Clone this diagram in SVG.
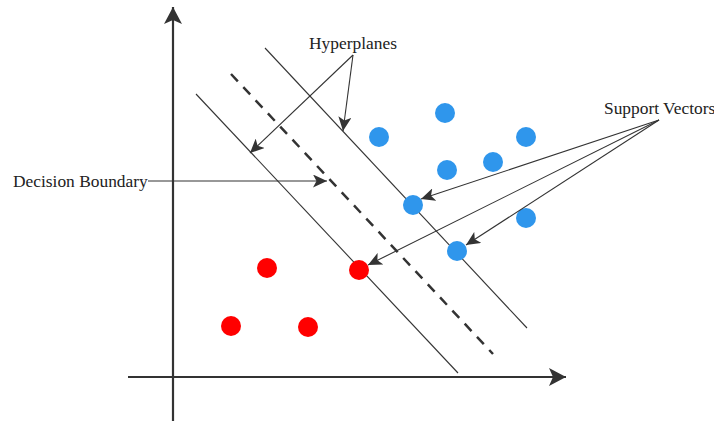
<svg xmlns="http://www.w3.org/2000/svg" width="714" height="423" viewBox="0 0 714 423">
<style>
.ax{stroke:#333;stroke-width:2.2;fill:none}
.hp{stroke:#333;stroke-width:1.1;fill:none}
.db{stroke:#333;stroke-width:2.5;fill:none;stroke-dasharray:10 8}
.ar{stroke:#333;stroke-width:1.1;fill:none}
.lbl{font-family:"Liberation Serif","Times New Roman",serif;font-size:17.4px;fill:#222}
.blue{fill:#2f96ec}
.red{fill:#ff0000}
</style>
<defs>
<marker id="ah" markerUnits="userSpaceOnUse" markerWidth="15" markerHeight="13" refX="14" refY="6.5" orient="auto">
<path d="M0,0 L14,6.5 L0,13 L3.5,6.5 Z" fill="#333"/>
</marker>
<marker id="axh" markerUnits="userSpaceOnUse" markerWidth="18" markerHeight="18" refX="17" refY="9" orient="auto">
<path d="M0,0 L17,9 L0,18 L4,9 Z" fill="#333"/>
</marker>
</defs>
<g id="axes">
<line class="ax" x1="173" y1="421" x2="173" y2="7" marker-end="url(#axh)"/>
<line class="ax" x1="128" y1="377" x2="566" y2="377" marker-end="url(#axh)"/>
</g>
<g id="hyperplanes">
<line class="hp" x1="196" y1="94" x2="458" y2="373"/>
<line class="hp" x1="265" y1="48" x2="527" y2="328"/>
<line class="db" x1="231" y1="74" x2="493" y2="354"/>
</g>
<g id="blue-points">
<circle class="blue" cx="379" cy="137" r="10"/>
<circle class="blue" cx="445" cy="113" r="10"/>
<circle class="blue" cx="526" cy="137" r="10"/>
<circle class="blue" cx="447" cy="170" r="10"/>
<circle class="blue" cx="493" cy="162" r="10"/>
<circle class="blue" cx="413" cy="205" r="10"/>
<circle class="blue" cx="457" cy="251" r="10"/>
<circle class="blue" cx="526" cy="218" r="10"/>
</g>
<g id="red-points">
<circle class="red" cx="267" cy="268" r="10"/>
<circle class="red" cx="359" cy="270" r="10"/>
<circle class="red" cx="231" cy="326" r="10"/>
<circle class="red" cx="308" cy="327" r="10"/>
</g>
<g id="label-hyperplanes">
<text class="lbl" x="353" y="49" text-anchor="middle">Hyperplanes</text>
</g>
<g id="label-decision">
<text class="lbl" x="13" y="187">Decision Boundary</text>
</g>
<g id="label-support">
<text class="lbl" x="604" y="114">Support Vectors</text>
</g>
<g id="connectors">
<line class="ar" x1="353" y1="55" x2="250" y2="153" marker-end="url(#ah)"/>
<line class="ar" x1="353" y1="55" x2="343" y2="131" marker-end="url(#ah)"/>
<line class="ar" x1="148" y1="181" x2="327" y2="181" marker-end="url(#ah)"/>
<line class="ar" x1="659" y1="120" x2="421" y2="199" marker-end="url(#ah)"/>
<line class="ar" x1="659" y1="120" x2="466" y2="245" marker-end="url(#ah)"/>
<line class="ar" x1="659" y1="120" x2="368" y2="265" marker-end="url(#ah)"/>
</g>
</svg>
